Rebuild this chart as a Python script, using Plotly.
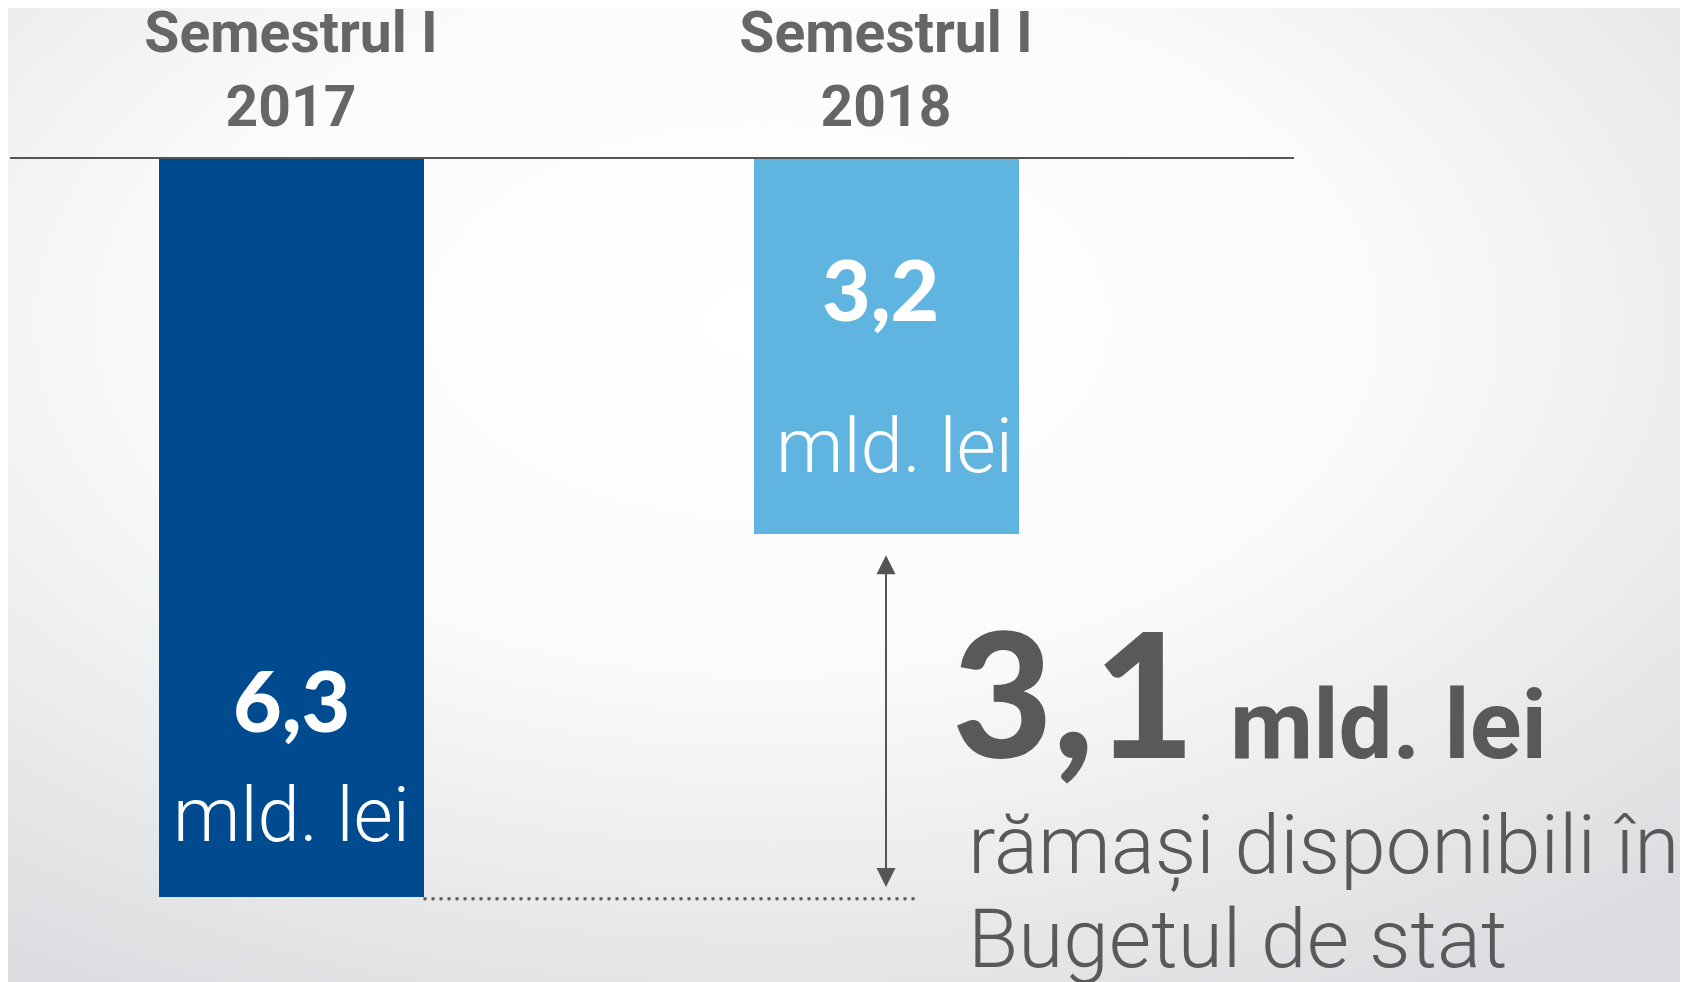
import base64
import plotly.graph_objects as go

# ---- data ----
categories = ["Semestrul I<br>2017", "Semestrul I<br>2018"]
values = [6.3, 3.2]          # mld. lei
unit = "mld. lei"
bar_colors = ["#004a8f", "#5fb4e0"]
note_lines = ["rămași disponibili în", "Bugetul de stat"]

def fmt(v):
    return f"{v:.1f}".replace(".", ",")

diff = round(values[0] - values[1], 1)

GRAY = "#58595b"
OFF = 8                      # page offset of the figure (body margin)
W, H = 1688, 982
ML = 10 - OFF
MT = 159 - OFF
MR = W - (1294 - OFF)
MB = 0
PW, PH = W - ML - MR, H - MT - MB
PX_PER_CAT = 595
C0 = 291 - OFF               # centre of the first category in figure px
PX_PER_UNIT = 117.15

fig = go.Figure()
fig.add_trace(go.Bar(
    x=categories, y=values, width=265 / PX_PER_CAT,
    marker=dict(color=bar_colors, line=dict(width=0)),
    hoverinfo="skip", showlegend=False,
))

# background radial gradient
svg = (
    f'<svg xmlns="http://www.w3.org/2000/svg" width="{W}" height="{H}">'
    '<defs><radialGradient id="g" cx="0.45" cy="0.32" r="0.78">'
    '<stop offset="0" stop-color="#ffffff"/>'
    '<stop offset="0.45" stop-color="#fbfbfb"/>'
    '<stop offset="1" stop-color="#dcdde0"/>'
    '</radialGradient></defs>'
    f'<rect width="{W}" height="{H}" fill="url(#g)"/></svg>'
)
src = "data:image/svg+xml;base64," + base64.b64encode(svg.encode()).decode()

ann = []
bar_lbl_font = dict(family="Lato, Roboto, sans-serif", size=84, color="white", weight=900)
unit_font = dict(family="Roboto, sans-serif", size=76, color="white", weight=300)
# bar 1 labels
ann.append(dict(x=categories[0], y=values[0], xref="x", yref="y", text=fmt(values[0]),
                showarrow=False, font=bar_lbl_font, yanchor="middle", yshift=198))
ann.append(dict(x=categories[0], y=values[0], xref="x", yref="y", text=unit,
                showarrow=False, font=unit_font, yanchor="middle", yshift=82))
# bar 2 labels
ann.append(dict(x=categories[1], y=values[1], xref="x", yref="y", text=fmt(values[1]),
                showarrow=False, font=bar_lbl_font, yanchor="middle", yshift=245, xshift=-6))
ann.append(dict(x=categories[1], y=values[1], xref="x", yref="y", text=unit,
                showarrow=False, font=unit_font, yanchor="middle", yshift=88, xshift=8))
# double arrow between bar ends
ann.append(dict(x=categories[1], y=values[0] - 0.085, ax=categories[1], ay=values[1] + 0.17,
                xref="x", yref="y", axref="x", ayref="y", text="", showarrow=True,
                arrowside="end+start", arrowhead=2, startarrowhead=2,
                arrowsize=1.9, startarrowsize=1.9, arrowwidth=2, arrowcolor="#555555",
                standoff=0, startstandoff=0))

def px_x(p):
    return (p - OFF - ML) / PW

def px_y(p):
    return (H - (p - OFF)) / PH

ann.append(dict(x=px_x(950), y=px_y(690), xref="paper", yref="paper", text=fmt(diff),
                showarrow=False, xanchor="left", yanchor="middle",
                font=dict(family="Lato, Roboto, sans-serif", size=174, color=GRAY, weight=900)))
ann.append(dict(x=px_x(1228), y=px_y(725), xref="paper", yref="paper", text=unit,
                showarrow=False, xanchor="left", yanchor="middle",
                font=dict(family="Roboto, sans-serif", size=96, color=GRAY, weight=700)))
ann.append(dict(x=px_x(966), y=px_y(845), xref="paper", yref="paper", text=note_lines[0],
                showarrow=False, xanchor="left", yanchor="middle",
                font=dict(family="Roboto, sans-serif", size=82, color=GRAY, weight=300)))
ann.append(dict(x=px_x(966), y=px_y(939), xref="paper", yref="paper", text=note_lines[1],
                showarrow=False, xanchor="left", yanchor="middle",
                font=dict(family="Roboto, sans-serif", size=82, color=GRAY, weight=300)))

# dotted guide from bar 1 end to the arrow
bar_half = 265 / PX_PER_CAT / 2
shapes = [dict(type="line", xref="x", yref="y", x0=bar_half, x1=1 + 32 / PX_PER_CAT,
               y0=values[0] + 0.015, y1=values[0] + 0.015,
               line=dict(color="#555555", width=3, dash="3px,5px"))]

fig.update_layout(
    width=W, height=H,
    margin=dict(l=ML, r=MR, t=MT, b=MB, pad=0, autoexpand=False),
    paper_bgcolor="white", plot_bgcolor="rgba(0,0,0,0)",
    images=[dict(source=src, xref="paper", yref="paper",
                 x=-ML / PW, y=1 + MT / PH, sizex=W / PW, sizey=H / PH,
                 xanchor="left", yanchor="top", sizing="stretch", layer="below")],
    xaxis=dict(side="top", range=[-(C0 - ML) / PX_PER_CAT, (ML + PW - C0) / PX_PER_CAT],
               automargin=False,
               showgrid=False, zeroline=False, showline=True, linecolor="#555555", linewidth=1.5,
               ticks="outside", ticklen=8, tickcolor="rgba(0,0,0,0)",
               tickfont=dict(family="Roboto, sans-serif", size=57, color="#666666", weight=700),
               fixedrange=True),
    yaxis=dict(range=[PH / PX_PER_UNIT, 0], visible=False, automargin=False,
               showgrid=False, zeroline=False, fixedrange=True),
    annotations=ann, shapes=shapes,
    bargap=0,
)

fig.write_html("out.html")
